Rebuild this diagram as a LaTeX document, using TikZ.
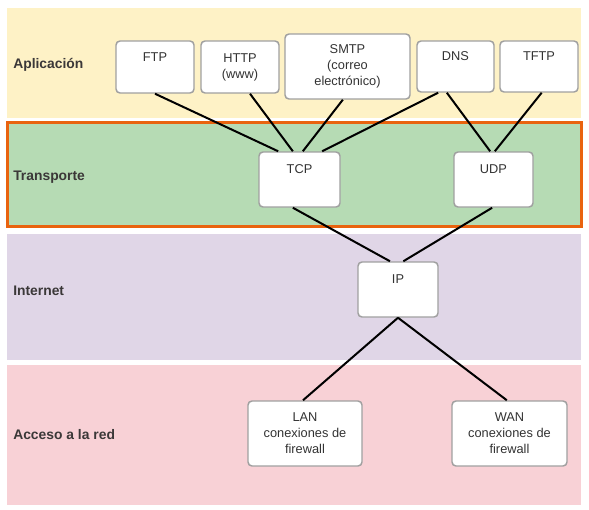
\documentclass[tikz,border=0pt]{standalone}
\usepackage{fontspec}
\setmainfont{Liberation Sans}
\definecolor{app-yellow}{HTML}{FEF2C6}
\definecolor{trans-green}{HTML}{B6DBB4}
\definecolor{inet-purple}{HTML}{E0D6E7}
\definecolor{access-pink}{HTML}{F8D1D6}
\definecolor{hl-orange}{HTML}{E9630F}
\definecolor{box-gray}{HTML}{A0A0A0}
\definecolor{label-gray}{HTML}{3B3838}

\begin{document}
\begin{tikzpicture}[x=0.75pt, y=-0.75pt,
        every node/.style={font=\fontsize{9.6}{12}\selectfont},
        layername/.style={anchor=base west, inner sep=0pt, text=label-gray,
            font=\fontsize{10.4}{12}\selectfont\bfseries},
        box/.style={draw=box-gray, line width=1.1pt, fill=white, rounded corners=3pt,
            align=center, inner sep=0pt, text=black!80},
        link/.style={line width=1.5pt}]
      \useasboundingbox (0,0) rectangle (589,510);
      % layer bands
      \fill[app-yellow] (7,8) rectangle (581,118);
      \fill[trans-green] (7,122) rectangle (582,227);
      \draw[hl-orange, line width=2.4pt] (7.5,122.5) rectangle (581.5,226.5);
      \fill[inet-purple] (7,234) rectangle (581,360);
      \fill[access-pink] (7,365) rectangle (581,505);
      \node[layername] (app) at (13,68.5) {Aplicación};
      \node[layername] (trans) at (13,180) {Transporte};
      \node[layername] (inet) at (13,295.5) {Internet};
      \node[layername] (access) at (13,439) {Acceso a la red};
      % protocols
      \node[box, minimum width=58.5pt, minimum height=39pt] (ftp) at (155,67) {FTP\\\strut};
      \node[box, minimum width=58.5pt, minimum height=39pt] (http) at (240,67) {HTTP\\(www)};
      \node[box, minimum width=93.75pt, minimum height=48.75pt] (smtp) at (347.5,66.5) {SMTP\\(correo\\electrónico)};
      \node[box, minimum width=57.75pt, minimum height=38.25pt] (dns) at (455.5,66.5) {DNS\\\strut};
      \node[box, minimum width=58.5pt, minimum height=38.25pt] (tftp) at (539,66.5) {TFTP\\\strut};
      \node[box, minimum width=60.75pt, minimum height=41.25pt] (tcp) at (299.5,179.5) {TCP\\\strut};
      \node[box, minimum width=59.25pt, minimum height=41.25pt] (udp) at (493.5,179.5) {UDP\\\strut};
      \node[box, minimum width=60pt, minimum height=41.25pt] (ip) at (398,289.5) {IP\\\strut};
      \node[box, minimum width=85.5pt, minimum height=48.75pt] (lan) at (305,433.5) {LAN\\conexiones de\\firewall};
      \node[box, minimum width=86.25pt, minimum height=48.75pt] (wan) at (509.5,433.5) {WAN\\conexiones de\\firewall};
      % links
      \draw[link] (ftp.south) -- ([xshift=-16pt]tcp.north);
      \draw[link] ([xshift=7.5pt]http.south) -- ([xshift=-5pt]tcp.north);
      \draw[link] ([xshift=-3.5pt]smtp.south) -- ([xshift=2.5pt]tcp.north);
      \draw[link] ([xshift=-13pt]dns.south) -- ([xshift=17pt]tcp.north);
      \draw[link] ([xshift=-6.5pt]dns.south) -- ([xshift=-2.5pt]udp.north);
      \draw[link] ([xshift=2pt]tftp.south) -- ([xshift=1pt]udp.north);
      \draw[link] ([xshift=-5pt]tcp.south) -- ([xshift=-6pt]ip.north);
      \draw[link] ([xshift=-1pt]udp.south) -- ([xshift=4pt]ip.north);
      \draw[link] (ip.south) -- ([xshift=-1.5pt]lan.north);
      \draw[link] (ip.south) -- ([xshift=-2pt]wan.north);
    \end{tikzpicture}
\end{document}
